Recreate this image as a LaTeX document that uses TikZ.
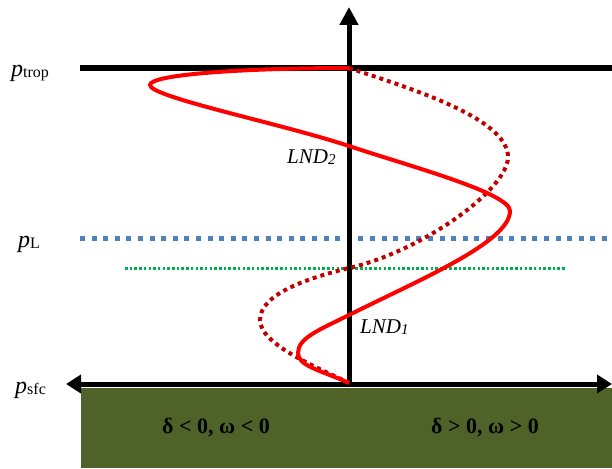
\documentclass[tikz,border=0pt]{standalone}
\usepackage{fontspec}
\setmainfont{Liberation Serif}
\usetikzlibrary{arrows.meta}
\definecolor{ground}{HTML}{4F6228}
\definecolor{bluedash}{HTML}{4F81BD}
\definecolor{greendot}{HTML}{00B050}
\definecolor{darkred}{HTML}{C00000}
\tikzset{
  plab/.style={anchor=base west, inner sep=0pt, font=\fontsize{24}{24}\selectfont},
  lnd/.style={anchor=base west, inner sep=0pt, font=\fontsize{21}{21}\selectfont\itshape},
  sign/.style={inner sep=0pt, font=\fontsize{22}{22}\selectfont\bfseries},
  axis/.style={line width=5pt},
  solidcurve/.style={red, line width=4pt},
  dotcurve/.style={darkred, line width=4pt, dash pattern=on 4pt off 4pt},
}
\newcommand{\subtxt}[1]{\raisebox{-1pt}{\fontsize{16}{16}\selectfont #1}}
\begin{document}
\begin{tikzpicture}[x=1pt,y=-1pt]
\useasboundingbox (0,0) rectangle (612,468);
% ground
\fill[ground] (81,388) rectangle (612,468);
% coordinates
\coordinate (O) at (349,383);
\coordinate (T) at (349,7);
\coordinate (BL) at (66,384);
\coordinate (BR) at (612,384);
\coordinate (TL) at (80,68);
\coordinate (TR) at (612,68);
\coordinate (LL) at (80,238);
\coordinate (LR) at (612,238);
\coordinate (GL) at (125,268);
\coordinate (GR) at (566,268);
% reference levels
\draw[bluedash, line width=5pt, dash pattern=on 5pt off 6.6pt] (LL) -- (LR);
\draw[greendot, line width=3pt, dash pattern=on 2.5pt off 2.2pt] (GL) -- (GR);
\draw[line width=6pt] (TL) -- (TR);
% axes
\draw[axis, -{Triangle[length=18pt,width=18pt]}] (O) -- (T);
\draw[axis, {Triangle[length=15pt,width=18pt]}-{Triangle[length=15pt,width=18pt]}] (BL) -- (BR);
% curves
\draw[dotcurve] (349,68) .. controls (409,88) and (508,118) .. (508,157)
  .. controls (508,190) and (420,252) .. (349,268)
  .. controls (304,279) and (260,295) .. (260,320)
  .. controls (260,345) and (319,368) .. (349,383);
\draw[solidcurve] (349,383) .. controls (320,370) and (298,366) .. (298,353)
  .. controls (298,338) and (319,330) .. (349,315)
  .. controls (419,280) and (510,242) .. (510,211)
  .. controls (510,193) and (409,166) .. (349,146)
  .. controls (279,123) and (150,97) .. (150,85)
  .. controls (150,74) and (250,68) .. (349,68);
% labels
\node[plab] (ptrop) at (11,77) {\textit{p}\subtxt{trop}};
\node[plab] (pL) at (18,247) {\textit{p}\subtxt{L}};
\node[plab] (psfc) at (15,393) {\textit{p}\subtxt{sfc}};
\node[lnd] (lnd2) at (287,163) {LND\raisebox{-1pt}{\fontsize{15}{15}\selectfont 2}};
\node[lnd] (lnd1) at (360,333) {LND\raisebox{-1pt}{\fontsize{15}{15}\selectfont 1}};
\node[sign] (neg) at (216,428) {δ < 0, ω < 0};
\node[sign] (pos) at (485,428) {δ > 0, ω > 0};
\end{tikzpicture}
\end{document}
